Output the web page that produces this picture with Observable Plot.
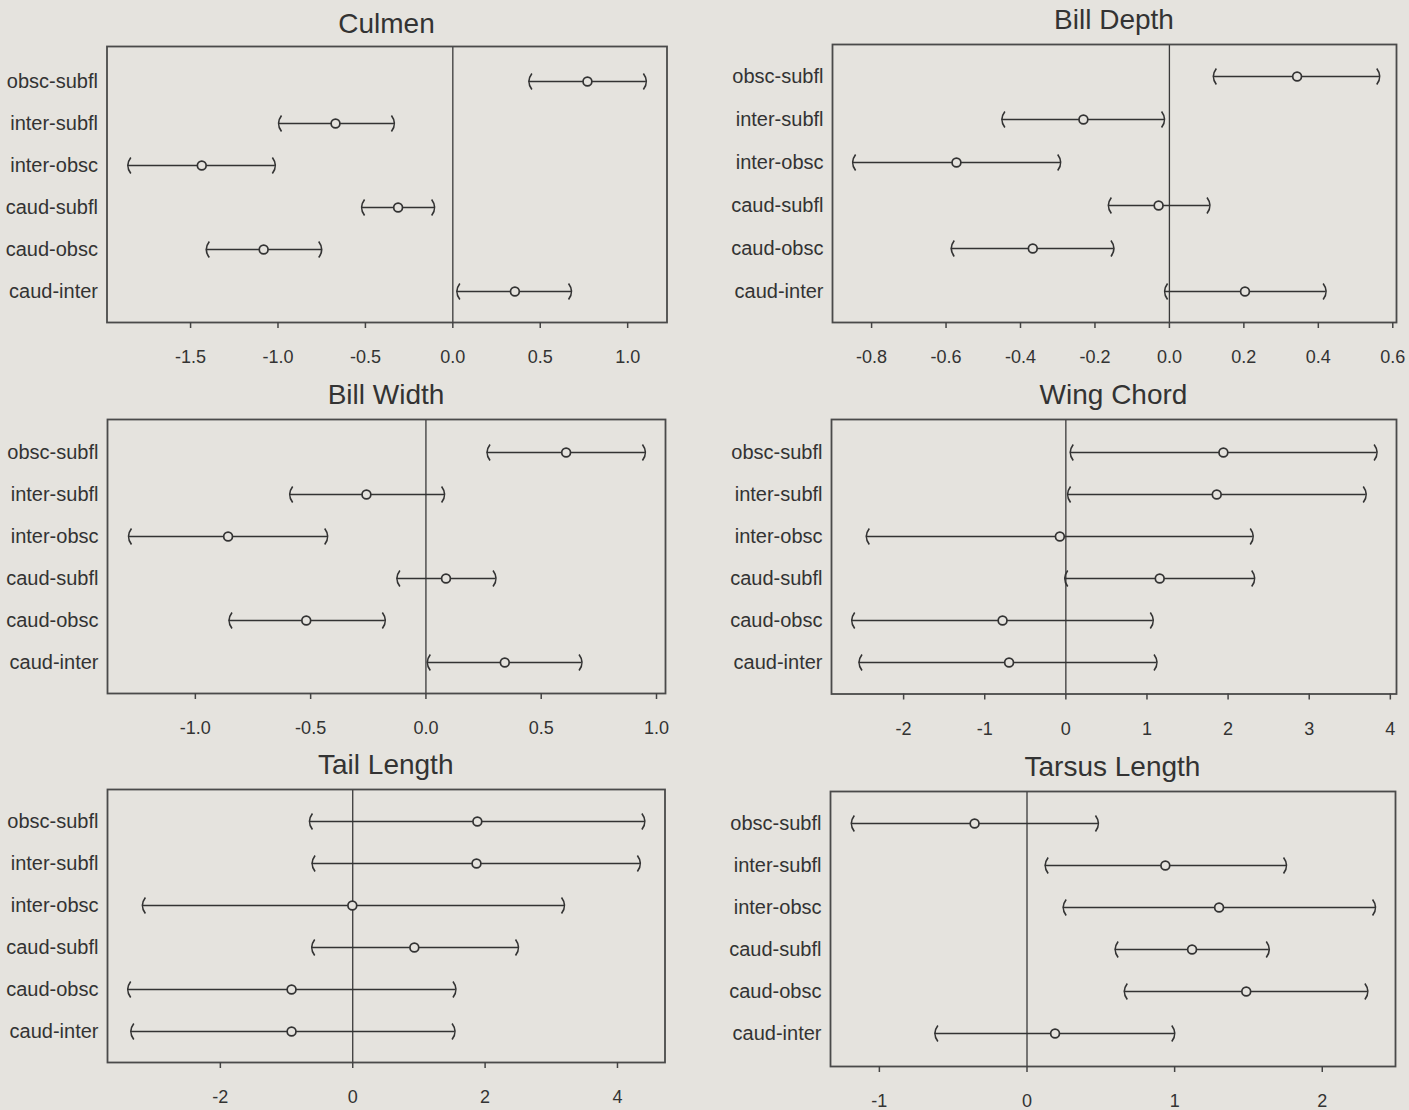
<!DOCTYPE html>
<html>
<head>
<meta charset="utf-8">
<script src="https://cdn.jsdelivr.net/npm/d3@7"></script>
<script src="https://cdn.jsdelivr.net/npm/@observablehq/plot@0.6"></script>
<style>
  html, body { margin: 0; padding: 0; background: #e5e3de; }
  #page { position: relative; width: 1409px; height: 1110px; background: #e5e3de; overflow: hidden;
          font-family: "Liberation Sans", Arial, sans-serif; color: #333333; }
  .panel { position: absolute; }
  .title { position: absolute; text-align: center; font-size: 28px; line-height: 28px; white-space: nowrap; }
</style>
</head>
<body>
<div id="page"></div>
<script>
// ---------- data ----------
const comparisons = ["obsc-subfl", "inter-subfl", "inter-obsc", "caud-subfl", "caud-obsc", "caud-inter"];

const titles = ["Culmen", "Bill Depth", "Bill Width", "Wing Chord", "Tail Length", "Tarsus Length"];

const culmenLo  = [0.435, -0.997, -1.859, -0.522, -1.41, 0.023];
const culmenEst = [0.770, -0.671, -1.436, -0.313, -1.082, 0.355];
const culmenHi  = [1.107, -0.334, -1.015, -0.104, -0.75, 0.679];

const billDepthLo  = [0.118, -0.45, -0.851, -0.164, -0.586, -0.013];
const billDepthEst = [0.343, -0.231, -0.572, -0.029, -0.367, 0.203];
const billDepthHi  = [0.565, -0.013, -0.292, 0.109, -0.149, 0.421];

const billWidthLo  = [0.265, -0.591, -1.29, -0.126, -0.854, 0.006];
const billWidthEst = [0.608, -0.258, -0.858, 0.087, -0.519, 0.342];
const billWidthHi  = [0.952, 0.081, -0.426, 0.304, -0.176, 0.677];

const wingChordLo  = [0.054, 0.021, -2.46, -0.014, -2.64, -2.55];
const wingChordEst = [1.942, 1.86, -0.074, 1.157, -0.78, -0.70];
const wingChordHi  = [3.837, 3.703, 2.31, 2.328, 1.078, 1.124];

const tailLo  = [-0.654, -0.614, -3.178, -0.62, -3.40, -3.353];
const tailEst = [1.883, 1.87, -0.006, 0.931, -0.924, -0.924];
const tailHi  = [4.414, 4.346, 3.2, 2.505, 1.56, 1.546];

const tarsusLo  = [-1.19, 0.123, 0.245, 0.597, 0.659, -0.624];
const tarsusEst = [-0.355, 0.937, 1.301, 1.118, 1.485, 0.19];
const tarsusHi  = [0.484, 1.758, 2.361, 1.641, 2.309, 1.001];

const culmenTicks    = [-1.5, -1.0, -0.5, 0.0, 0.5, 1.0];
const billDepthTicks = [-0.8, -0.6, -0.4, -0.2, 0.0, 0.2, 0.4, 0.6];
const billWidthTicks = [-1.0, -0.5, 0.0, 0.5, 1.0];
const wingChordTicks = [-2, -1, 0, 1, 2, 3, 4];
const tailTicks      = [-2, 0, 2, 4];
const tarsusTicks    = [-1, 0, 1, 2];

const series = [
  [culmenLo, culmenEst, culmenHi, culmenTicks, 1],
  [billDepthLo, billDepthEst, billDepthHi, billDepthTicks, 1],
  [billWidthLo, billWidthEst, billWidthHi, billWidthTicks, 1],
  [wingChordLo, wingChordEst, wingChordHi, wingChordTicks, 0],
  [tailLo, tailEst, tailHi, tailTicks, 0],
  [tarsusLo, tarsusEst, tarsusHi, tarsusTicks, 0]
];

// ---------- layout (frame box in page pixels, scale extents) ----------
const layout = [
  {ox: 0,   w: 700, fl: 106.5, fr: 666.5, ft: 46,    fb: 322,    dom: [-1.978, 1.225], it: 33,   ib: 30,   titleTop: 10},
  {ox: 700, w: 709, fl: 832,   fr: 1396,  ft: 43.5,  fb: 321.5,  dom: [-0.905, 0.61],  it: 31.5, ib: 31.5, titleTop: 6},
  {ox: 0,   w: 700, fl: 107,   fr: 665,   ft: 418.5, fb: 692.5,  dom: [-1.381, 1.039], it: 31.5, ib: 30,   titleTop: 381},
  {ox: 700, w: 709, fl: 831,   fr: 1396,  ft: 418.5, fb: 693,    dom: [-2.889, 4.076], it: 31.5, ib: 29.7, titleTop: 381},
  {ox: 0,   w: 700, fl: 107,   fr: 664.5, ft: 788.5, fb: 1061.5, dom: [-3.705, 4.718], it: 31.5, ib: 31,   titleTop: 751},
  {ox: 700, w: 709, fl: 830,   fr: 1395,  ft: 791,   fb: 1066,   dom: [-1.331, 2.496], it: 30,   ib: 31,   titleTop: 753}
];

const bg = "#e5e3de";
const ink = "#333333";

// bracket-shaped caps "(" and ")"
const capLeft = { draw(ctx) { ctx.moveTo(3, -8); ctx.quadraticCurveTo(-3, 0, 3, 8); } };
const capRight = { draw(ctx) { ctx.moveTo(-3, -8); ctx.quadraticCurveTo(3, 0, -3, 8); } };

const page = document.getElementById("page");

series.forEach(([lo, est, hi, ticks, dec], i) => {
  const L = layout[i];
  const data = comparisons.map((c, j) => ({row: c, lo: lo[j], est: est[j], hi: hi[j]}));
  const marginTop = 10, marginBottom = 44;
  const height = (L.fb - L.ft) + marginTop + marginBottom;
  const chart = Plot.plot({
    width: L.w,
    height,
    marginLeft: L.fl - L.ox,
    marginRight: L.ox + L.w - L.fr,
    marginTop,
    marginBottom,
    x: {domain: L.dom},
    y: {type: "point", domain: comparisons, padding: 0, insetTop: L.it, insetBottom: L.ib},
    style: {background: "transparent", fontFamily: "'Liberation Sans', Arial, sans-serif", color: ink, overflow: "visible"},
    marks: [
      Plot.ruleX([0], {stroke: "#3a3a3a", strokeWidth: 1.3}),
      Plot.ruleY(data, {y: "row", x1: "lo", x2: "hi", stroke: ink, strokeWidth: 1.7}),
      Plot.dot(data, {x: "lo", y: "row", symbol: capLeft, r: 5, stroke: ink, fill: "none", strokeWidth: 1.6}),
      Plot.dot(data, {x: "hi", y: "row", symbol: capRight, r: 5, stroke: ink, fill: "none", strokeWidth: 1.6}),
      Plot.dot(data, {x: "est", y: "row", r: 4.4, stroke: ink, fill: bg, strokeWidth: 1.7}),
      Plot.frame({stroke: "#4a4a4a", strokeWidth: 1.8}),
      Plot.axisX({ticks, tickFormat: d => d.toFixed(dec), tickSize: 6, tickPadding: 22, fontSize: 18,
                  stroke: "#444", strokeWidth: 1.5, label: null}),
      Plot.axisY({tickSize: 0, tickPadding: 9, fontSize: 20, label: null})
    ]
  });
  chart.classList.add("panel");
  chart.style.left = L.ox + "px";
  chart.style.top = (L.ft - marginTop) + "px";
  page.appendChild(chart);

  const t = document.createElement("div");
  t.className = "title";
  t.textContent = titles[i];
  t.style.left = L.fl + "px";
  t.style.width = (L.fr - L.fl) + "px";
  t.style.top = L.titleTop + "px";
  page.appendChild(t);
});
</script>
</body>
</html>
